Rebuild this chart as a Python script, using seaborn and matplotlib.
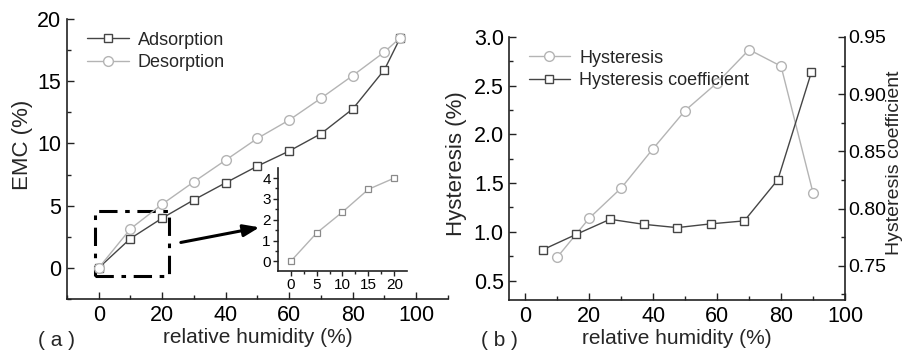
import matplotlib
matplotlib.use("Agg")
import matplotlib.pyplot as plt
import seaborn as sns
import pandas as pd
from matplotlib.patches import Rectangle
from matplotlib.ticker import MultipleLocator

sns.set_theme(style="white")
plt.rcParams['font.family'] = ['Liberation Sans', 'DejaVu Sans']

# ---- data panel (a)
rh = [0, 10, 20, 30, 40, 50, 60, 70, 80, 90, 95]
adsorption = [0, 2.36, 4.0, 5.47, 6.84, 8.18, 9.39, 10.78, 12.77, 15.93, 18.5]
desorption = [0, 3.14, 5.12, 6.92, 8.66, 10.41, 11.88, 13.63, 15.45, 17.35, 18.5]
inset_rh = [0, 5, 10, 15, 20]
inset_emc = [0, 1.36, 2.37, 3.46, 4.0]

# ---- data panel (b)
hyst_rh = [10, 20, 30, 40, 50, 60, 70, 80, 90]
hysteresis = [0.74, 1.14, 1.45, 1.855, 2.245, 2.53, 2.87, 2.70, 1.40]
coef_rh = [5.5, 16, 26.5, 37, 47.5, 58, 68.5, 79, 89.5]
hyst_coef = [0.764, 0.7775, 0.7906, 0.7862, 0.7833, 0.7866, 0.7892, 0.8252, 0.9193]

dark = "#454545"
light = "#b4b4b4"
spine_c = "#222222"

fig = plt.figure(figsize=(9.05, 3.54), dpi=100)

def style_axis(ax, spines=("left", "bottom"), direction="in"):
    for s in ["left", "right", "top", "bottom"]:
        ax.spines[s].set_visible(s in spines)
        ax.spines[s].set_color(spine_c)
        ax.spines[s].set_linewidth(1.2)
    ax.tick_params(which="both", direction=direction, colors=spine_c,
                   labelcolor="black", width=1.0,
                   left="left" in spines, right="right" in spines,
                   bottom="bottom" in spines, top=False,
                   labelleft="left" in spines, labelright="right" in spines,
                   labelbottom="bottom" in spines)
    ax.tick_params(which="major", length=5)
    ax.tick_params(which="minor", length=3)

# ---------------- panel (a)
axa = fig.add_axes([0.0740, 0.1554, 0.421, 0.791])
df_a = pd.DataFrame({"rh": rh, "Adsorption": adsorption, "Desorption": desorption})
sns.lineplot(data=df_a, x="rh", y="Adsorption", ax=axa, color=dark, marker="s",
             markersize=6, mfc="white", mec=dark, mew=1.0, lw=1.0, label="Adsorption")
sns.lineplot(data=df_a, x="rh", y="Desorption", ax=axa, color=light, marker="o",
             markersize=7, mfc="white", mec=light, mew=1.0, lw=1.0, label="Desorption")
axa.set_xlim(-10, 110)
axa.set_ylim(-2.5, 20)
axa.set_xticks([0, 20, 40, 60, 80, 100])
axa.set_yticks([0, 5, 10, 15, 20])
axa.xaxis.set_minor_locator(MultipleLocator(10))
axa.yaxis.set_minor_locator(MultipleLocator(2.5))
style_axis(axa)
axa.tick_params(labelsize=15.5, pad=4)
axa.set_xlabel("relative humidity (%)", fontsize=15, labelpad=2)
axa.set_ylabel("EMC (%)", fontsize=16)
axa.yaxis.set_label_coords(-0.088, 0.55)
axa.legend(loc="upper left", frameon=False, fontsize=13, handlelength=2.3,
           handletextpad=0.5, labelspacing=0.3, borderaxespad=0.3,
           bbox_to_anchor=(0.02, 1.0))

# dash-dot zoom box and arrow
axa.add_patch(Rectangle((-1.2, -0.67), 23.4, 5.27, fill=False, ec="black",
                        lw=2.2, ls=(0, (6, 2.5, 1.5, 2.5))))
axa.annotate("", xy=(51.5, 3.3), xytext=(25, 2.0),
             arrowprops=dict(arrowstyle="-|>,head_length=0.8,head_width=0.3",
                             color="black", lw=2.2))

# inset
axi = fig.add_axes([0.3075, 0.2353, 0.1419, 0.2893])
sns.lineplot(x=inset_rh, y=inset_emc, ax=axi, color=light, marker="s",
             markersize=4.5, mfc="white", mec="#8a8a8a", mew=0.9, lw=1.0)
axi.set_xlim(-2.4, 22.4)
axi.set_ylim(-0.45, 4.47)
axi.set_xticks([0, 5, 10, 15, 20])
axi.set_yticks([0, 1, 2, 3, 4])
axi.xaxis.set_minor_locator(MultipleLocator(2.5))
axi.yaxis.set_minor_locator(MultipleLocator(0.5))
style_axis(axi, direction="out")
axi.tick_params(which="major", length=3.5)
axi.tick_params(which="minor", length=2)
axi.tick_params(labelsize=11, pad=2)
axi.patch.set_alpha(0)

fig.text(0.042, 0.022, "( a )", fontsize=15, ha="left", va="baseline")

# ---------------- panel (b)
axb = fig.add_axes([0.5628, 0.1525, 0.3709, 0.743])
df_b1 = pd.DataFrame({"rh": hyst_rh, "h": hysteresis})
df_b2 = pd.DataFrame({"rh": coef_rh, "c": hyst_coef})
sns.lineplot(data=df_b1, x="rh", y="h", ax=axb, color=light, marker="o",
             markersize=7, mfc="white", mec=light, mew=1.0, lw=1.0, label="Hysteresis")
axb2 = axb.twinx()
sns.lineplot(data=df_b2, x="rh", y="c", ax=axb2, color=dark, marker="s",
             markersize=6, mfc="white", mec=dark, mew=1.0, lw=1.0,
             label="Hysteresis coefficient")
axb.set_xlim(-5, 100)
axb.set_ylim(0.3, 3.0)
axb2.set_ylim(0.72, 0.95)
axb.set_xticks([0, 20, 40, 60, 80, 100])
axb.set_yticks([0.5, 1.0, 1.5, 2.0, 2.5, 3.0])
axb.set_yticklabels(["0.5", "1.0", "1.5", "2.0", "2.5", "3.0"])
axb2.set_yticks([0.75, 0.80, 0.85, 0.90, 0.95])
axb2.set_yticklabels(["0.75", "0.80", "0.85", "0.90", "0.95"])
axb.xaxis.set_minor_locator(MultipleLocator(10))
axb.yaxis.set_minor_locator(MultipleLocator(0.25))
axb2.yaxis.set_minor_locator(MultipleLocator(0.025))
style_axis(axb)
style_axis(axb2, spines=("right",))
axb.tick_params(labelsize=15.5, pad=4)
axb2.tick_params(labelsize=14, pad=2)
axb.set_xlabel("relative humidity (%)", fontsize=15, labelpad=2)
axb.set_ylabel("Hysteresis (%)", fontsize=16)
axb.yaxis.set_label_coords(-0.125, 0.52)
axb2.set_ylabel("Hysteresis coefficient", fontsize=14)
axb2.yaxis.set_label_coords(1.122, 0.52)

h1, l1 = axb.get_legend_handles_labels()
h2, l2 = axb2.get_legend_handles_labels()
if axb2.get_legend():
    axb2.get_legend().remove()
axb.legend(h1 + h2, l1 + l2, loc="upper left", frameon=False, fontsize=13,
           handlelength=2.3, handletextpad=0.5, labelspacing=0.3,
           borderaxespad=0.3, bbox_to_anchor=(0.02, 1.0))

fig.text(0.532, 0.022, "( b )", fontsize=15, ha="left", va="baseline")

fig.savefig("out.png", dpi=100)
